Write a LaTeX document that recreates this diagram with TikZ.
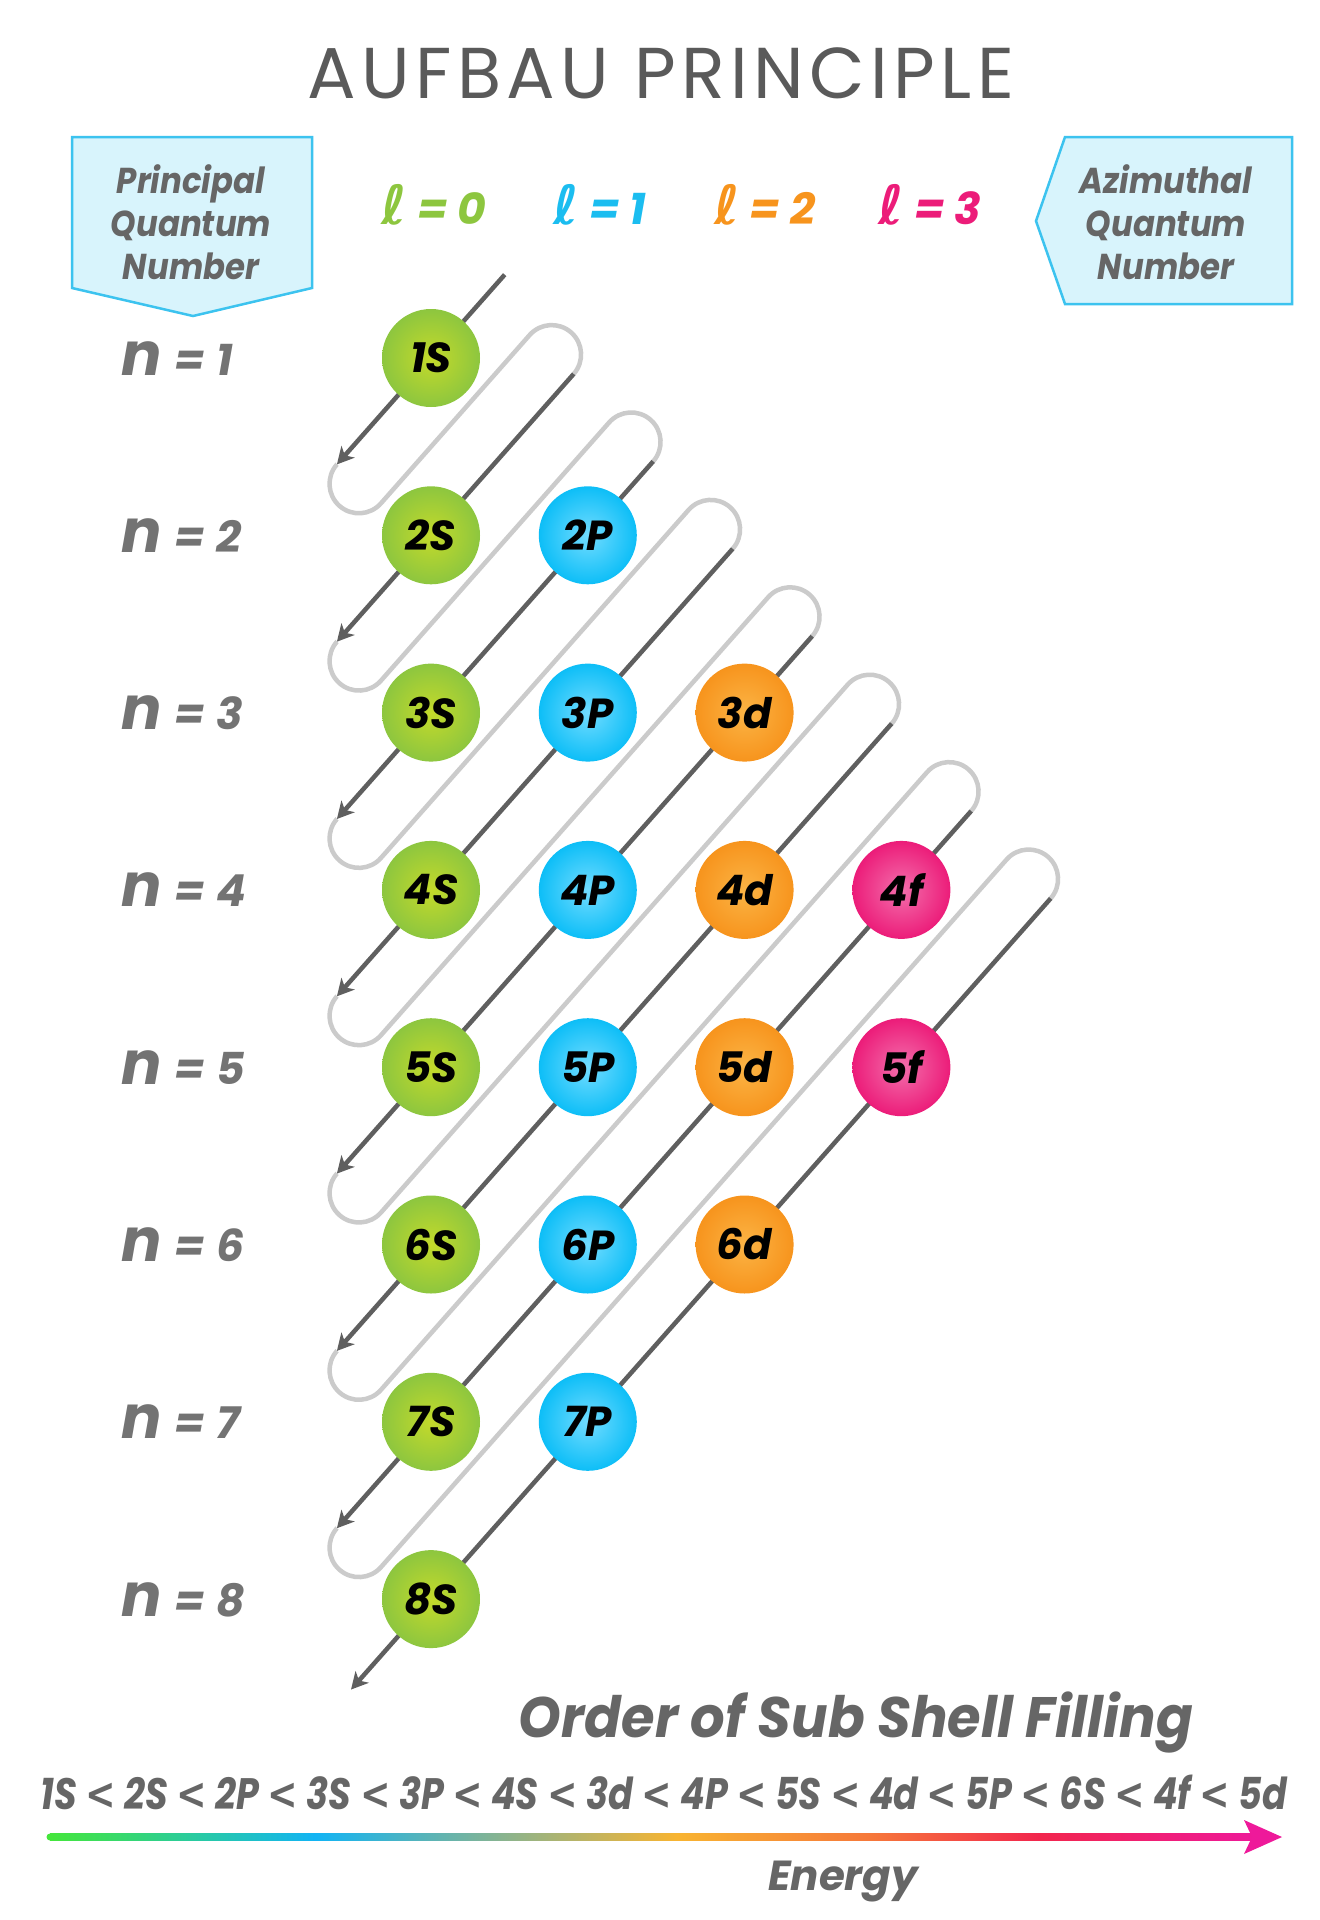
\documentclass[tikz,border=0pt]{standalone}
\usepackage{fontspec}
\usepackage{graphicx}
\setmainfont{Poppins}
\newfontfamily\dvs{DejaVu Sans}
\newfontfamily\cond[FakeStretch=0.9]{Poppins}
\newfontfamily\titlefont[LetterSpace=7.5]{Poppins}
\usetikzlibrary{arrows.meta,calc}
\definecolor{titlegray}{HTML}{5A5A5A}
\definecolor{txtgray}{HTML}{666666}
\definecolor{ngray}{HTML}{737373}
\definecolor{boxfill}{HTML}{D8F4FC}
\definecolor{boxline}{HTML}{3CC3EF}
\definecolor{gOut}{HTML}{8DC63F}\definecolor{gIn}{HTML}{C4DA2A}
\definecolor{bOut}{HTML}{0DBEF7}\definecolor{bIn}{HTML}{72DCFF}
\definecolor{oOut}{HTML}{F7941D}\definecolor{oIn}{HTML}{FBB445}
\definecolor{pOut}{HTML}{EC1C79}\definecolor{pIn}{HTML}{F36FAC}
\definecolor{lGreen}{HTML}{8DC63F}
\definecolor{lBlue}{HTML}{1BBDF0}
\definecolor{lOrange}{HTML}{F7941D}
\definecolor{lPink}{HTML}{EC1C79}
\definecolor{darkline}{HTML}{5F5F5F}
\definecolor{grayline}{HTML}{CBCBCB}
\definecolor{e0}{HTML}{45E63C}
\definecolor{e1}{HTML}{12B4F4}
\definecolor{e2}{HTML}{F8B431}
\definecolor{e3}{HTML}{F6783A}
\definecolor{e4}{HTML}{F2264D}
\definecolor{e5}{HTML}{EE199A}
\pgfdeclarehorizontalshading{energy}{100bp}{color(0bp)=(e0); color(25bp)=(e0); color(36bp)=(e1); color(51bp)=(e2); color(59bp)=(e3); color(66bp)=(e4); color(75bp)=(e5); color(100bp)=(e5)}
\newcommand{\lessthan}{{\dvs\bfseries\itshape <}}
\tikzset{
  ball/.style 2 args={circle, minimum size=98pt, inner sep=0pt, shading=radial, inner color=#1, outer color=#2,
    font=\fontsize{42}{42}\selectfont\bfseries\itshape, text=black},
  darkpath/.style={draw=darkline, line width=4.5pt},
  tiphead/.style={fill=darkline},
  graypath/.style={draw=grayline, line width=4.5pt, rounded corners=29.4pt},
  qbox/.style={fill=boxfill, draw=boxline, line width=2.5pt},
  qtext/.style={align=center, text=txtgray, font=\cond\fontsize{36}{43}\selectfont\bfseries\itshape},
  nlab/.style={anchor=base west, text=ngray, font=\fontsize{44}{44}\selectfont\bfseries\itshape},
  llab/.style={font=\fontsize{44}{44}\selectfont\bfseries\itshape},
}
\begin{document}
\begin{tikzpicture}[x=1pt,y=-1pt]
\useasboundingbox (0,0) rectangle (1320,1920);
\fill[white] (0,0) rectangle (1320,1920);
% title
\node[text=titlegray, font=\titlefont\fontsize{72}{72}\selectfont] (title) at (661,73) {AUFBAU PRINCIPLE};
% boxes
\draw[qbox] (72,137) -- (312,137) -- (312,288) -- (193,316) -- (72,288) -- cycle;
\node[qtext] (pqn) at (191,222) {Principal\\Quantum\\Number};
\draw[qbox] (1065,137) -- (1292,137) -- (1292,304) -- (1065,304) -- (1036,221) -- cycle;
\node[qtext] (aqn) at (1166,222) {Azimuthal\\Quantum\\Number};
% l labels
\node[llab, text=lGreen] (l0) at (434,205) {{\dvs\fontsize{54}{54}\selectfont ℓ} = 0};
\node[llab, text=lBlue] (l1) at (600,205) {{\dvs\fontsize{54}{54}\selectfont ℓ} = 1};
\node[llab, text=lOrange] (l2) at (765,205) {{\dvs\fontsize{54}{54}\selectfont ℓ} = 2};
\node[llab, text=lPink] (l3) at (930,205) {{\dvs\fontsize{54}{54}\selectfont ℓ} = 3};
% n labels
\foreach \n in {1,...,8}{
  \node[nlab] (n\n) at (118,{358+177.3*(\n-1)+17}) {{\fontsize{60}{60}\selectfont n}\hspace{13pt}=\hspace{11pt}\n};
}
% line geometry
\foreach \k in {1,...,8}{
  \pgfmathsetmacro\yk{358+177.3*(\k-1)}
  \pgfmathsetmacro\tb{\k==8 ? -0.51 : -0.6}
  \pgfmathsetmacro\tt{\k==1 ? 0.47 : 0.91+0.507*(\k-2)}
  \coordinate (B\k) at ({431+156.8*\tb},{\yk-177.3*\tb});
  \coordinate (T\k) at ({431+156.8*\tt},{\yk-177.3*\tt});
}
\foreach \k [evaluate=\k as \kn using int(\k+1)] in {1,...,7}{
  \draw[graypath] (B\k) -- ++(-19.48,22.02) -- ++(44.04,38.96)
     -- ($(T\kn)+(-24.56,-60.98)$) -- ($(T\kn)+(19.48,-22.02)$) -- (T\kn);
}
\foreach \k in {1,...,8}{
  \draw[darkpath] (T\k) -- ($(B\k)+(6.63,-7.49)$);
  \fill[tiphead] (B\k) -- ($(B\k)+(18.0,-6.77)$) -- ($(B\k)+(7.95,-8.99)$) -- ($(B\k)+(4.52,-18.69)$) -- cycle;
}
% balls
\foreach \n in {1,...,8}{
  \node[ball={gIn}{gOut}] (s\n) at (431,{358+177.3*(\n-1)}) {\n S};
}
\foreach \n in {2,...,7}{
  \node[ball={bIn}{bOut}] (p\n) at (587.8,{358+177.3*(\n-1)}) {\n P};
}
\foreach \n in {3,...,6}{
  \node[ball={oIn}{oOut}] (d\n) at (744.6,{358+177.3*(\n-1)}) {\n d};
}
\foreach \n in {4,5}{
  \node[ball={pIn}{pOut}] (f\n) at (901.4,{358+177.3*(\n-1)}) {\n f};
}
% bottom
\node[text=txtgray, font=\fontsize{57}{57}\selectfont\bfseries\itshape, anchor=base, inner sep=0pt] (order) at (856,1737) {\resizebox{674pt}{\height}{Order of Sub Shell Filling}};
\node[text=txtgray, font=\fontsize{44}{44}\selectfont\bfseries\itshape, anchor=base, inner sep=0pt] (seq) at (664,1809) {\resizebox{1246pt}{\height}{1S \lessthan{} 2S \lessthan{} 2P \lessthan{} 3S \lessthan{} 3P \lessthan{} 4S \lessthan{} 3d \lessthan{} 4P \lessthan{} 5S \lessthan{} 4d \lessthan{} 5P \lessthan{} 6S \lessthan{} 4f \lessthan{} 5d}};
\shade[shading=energy] (50,1833.5) rectangle (1256,1840.5);
\fill[e0] (50,1837) circle (3.5pt);
\fill[e5] (1244,1820) -- (1282,1837) -- (1244,1854) -- (1252,1837) -- cycle;
\node[text=txtgray, font=\fontsize{42}{42}\selectfont\bfseries\itshape, anchor=base] (energy) at (843,1890) {Energy};
\end{tikzpicture}
\end{document}
